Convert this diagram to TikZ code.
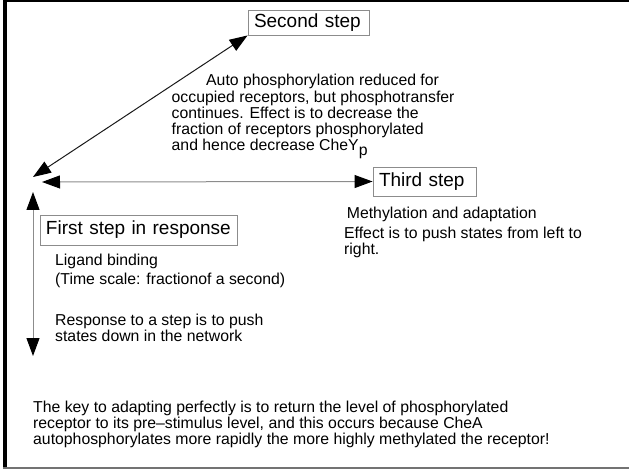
\documentclass[tikz,border=0pt]{standalone}
\usepackage{fontspec}
\setmainfont{Liberation Sans}
\usetikzlibrary{arrows.meta}
\begin{document}
\begin{tikzpicture}[x=1bp,y=-1bp,
  body/.style={anchor=base west, inner sep=0pt, font=\fontsize{15.8bp}{16bp}\selectfont, text=black},
  stepbox/.style={draw=black!45, line width=0.9bp, font=\fontsize{19bp}{21bp}\selectfont, text=black, align=left, inner xsep=6bp, inner ysep=0pt},
  conn/.style={line width=1bp, {Triangle[length=18bp,width=13bp,color=black]}-{Triangle[length=18bp,width=13bp,color=black]}},
  frame/.style={line width=#1}
]
\useasboundingbox (0,0) rectangle (629,469);
% frame
\draw[frame=1.6bp] (3,1.3) -- (629,1.3);
\draw[frame=4bp] (5.3,0) -- (5.3,468.5);
\draw[frame=1.5bp, draw=black!55] (3,468.2) -- (629,468.2);

% step boxes
\node[stepbox, text width=109bp, minimum height=25bp] (second) at (308.5,22.5) {Second step};
\node[stepbox, text width=91bp, minimum height=29bp] (third) at (424.5,181.5) {Third step};
\node[stepbox, text width=185bp, minimum height=30bp] (first) at (138.5,230) {First step in response};

% connectors
\coordinate (J) at (33,177);
\coordinate (hl) at (42,182);
\coordinate (vt) at (33,192);
\coordinate (vb) at (33,356);
\draw[conn, draw=black!90] (J) -- (second.south west);
\draw[conn, draw=black!45] (hl) -- (third.west);
\draw[conn, draw=black!45] (vt) -- (vb);

% second step text
\node[body] (s1) at (206,86) {Auto phosphorylation reduced for};
\node[body] (s2) at (171.5,102.3) {occupied receptors, but phosphotransfer};
\node[body] (s3) at (171.5,118.5) {continues. Effect is to decrease the};
\node[body] (s4) at (171.5,134.7) {fraction of receptors phosphorylated};
\node[body] (s5) at (171.5,150.9) {and hence decrease CheY\raisebox{-5bp}{p}};

% third step text
\node[body] (t1) at (346.7,219) {Methylation and adaptation};
\node[body] (t2) at (344,238.8) {Effect is to push states from left to};
\node[body] (t3) at (344,254.2) {right.};

% first step text
\node[body] (f1) at (55,265.7) {Ligand binding};
\node[body] (f2) at (55,284.3) {(Time scale: fractionof a second)};
\node[body] (f3) at (55,325) {Response to a step is to push};
\node[body] (f4) at (55,341.5) {states down in the network};

% bottom text
\node[body] (b1) at (33,412.3) {The key to adapting perfectly is to return the level of phosphorylated};
\node[body] (b2) at (33,428.3) {receptor to its pre–stimulus level, and this occurs because CheA};
\node[body] (b3) at (33,444.3) {autophosphorylates more rapidly the more highly methylated the receptor!};
\end{tikzpicture}
\end{document}
